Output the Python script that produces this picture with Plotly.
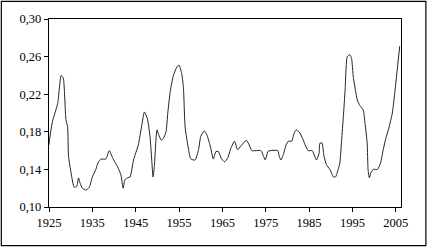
import plotly.graph_objects as go

years = [1925.0, 1925.1, 1925.8, 1927.0, 1927.8, 1928.3, 1928.9, 1929.3, 1929.5, 1930.1, 1930.8,
         1931.4, 1931.8, 1932.2, 1932.7, 1933.5, 1934.3, 1935.0, 1935.8, 1936.4, 1937.0, 1938.1,
         1938.9, 1939.7, 1940.8, 1941.6, 1942.1, 1942.5, 1943.1, 1943.7, 1944.5, 1944.9, 1945.6,
         1946.4, 1947.0, 1947.7, 1948.3, 1948.7, 1949.0, 1949.3, 1949.9, 1950.3, 1950.9, 1951.4,
         1952.0, 1952.4, 1953.0, 1953.7, 1954.5, 1955.0, 1955.6, 1956.0, 1956.4, 1957.2, 1957.7,
         1958.7, 1959.5, 1960.0, 1960.8, 1961.4, 1962.2, 1962.9, 1963.5, 1964.1, 1964.7, 1965.5,
         1966.2, 1967.0, 1967.8, 1968.5, 1969.3, 1970.5, 1971.2, 1971.8, 1973.9, 1974.4, 1974.9,
         1975.5, 1976.0, 1977.8, 1978.1, 1978.5, 1979.0, 1979.7, 1980.2, 1981.0, 1981.5, 1982.0,
         1982.7, 1983.5, 1984.1, 1984.8, 1985.7, 1986.3, 1986.7, 1987.3, 1987.5, 1988.0, 1988.4,
         1989.0, 1989.8, 1990.6, 1991.1, 1991.7, 1992.1, 1992.5, 1992.9, 1993.3, 1993.8, 1994.4,
         1994.8, 1995.2, 1995.7, 1996.1, 1996.7, 1997.5, 1997.9, 1998.4, 1998.6, 1998.9, 1999.2,
         1999.8, 2000.8, 2001.5, 2002.1, 2002.7, 2003.4, 2004.2, 2004.8, 2005.4, 2005.9]
values = [0.166, 0.171, 0.191, 0.210, 0.240, 0.237, 0.193, 0.185, 0.154, 0.136, 0.121,
          0.122, 0.131, 0.125, 0.120, 0.118, 0.121, 0.132, 0.140, 0.148, 0.151, 0.151,
          0.160, 0.152, 0.143, 0.134, 0.120, 0.129, 0.131, 0.132, 0.150, 0.156, 0.166,
          0.187, 0.201, 0.194, 0.175, 0.150, 0.132, 0.143, 0.182, 0.177, 0.171, 0.173,
          0.180, 0.200, 0.224, 0.240, 0.249, 0.251, 0.242, 0.228, 0.185, 0.161, 0.151,
          0.150, 0.161, 0.175, 0.181, 0.177, 0.165, 0.151, 0.159, 0.159, 0.152, 0.148,
          0.152, 0.163, 0.170, 0.161, 0.165, 0.171, 0.166, 0.160, 0.160, 0.155, 0.150,
          0.159, 0.160, 0.160, 0.154, 0.150, 0.155, 0.166, 0.170, 0.170, 0.178, 0.182,
          0.180, 0.173, 0.166, 0.160, 0.160, 0.154, 0.150, 0.157, 0.168, 0.168, 0.155,
          0.145, 0.140, 0.132, 0.132, 0.140, 0.147, 0.171, 0.196, 0.224, 0.260, 0.262,
          0.258, 0.238, 0.224, 0.214, 0.208, 0.203, 0.189, 0.168, 0.140, 0.131, 0.136,
          0.140, 0.140, 0.147, 0.161, 0.173, 0.184, 0.200, 0.223, 0.249, 0.271]

x_ticks = [1925, 1935, 1945, 1955, 1965, 1975, 1985, 1995, 2005]
y_ticks = [0.10, 0.14, 0.18, 0.22, 0.26, 0.30]

fig = go.Figure()
fig.add_trace(go.Scatter(x=years, y=values, mode="lines",
                         line=dict(color="#222222", width=1, shape="spline", smoothing=0.5),
                         showlegend=False, hoverinfo="skip"))

font = dict(family="Liberation Serif, Times New Roman, serif", size=12.5, color="black")
fig.update_layout(
    width=428, height=248,
    margin=dict(l=49, r=27, t=19, b=41),
    paper_bgcolor="white", plot_bgcolor="white",
    separators=",.",
    font=font,
    xaxis=dict(range=[1925, 2006.2], tickvals=x_ticks, ticks="outside", ticklen=4,
               tickcolor="black", showline=True, linecolor="black", linewidth=1.3,
               mirror=True, showgrid=False, zeroline=False, tickfont=font),
    yaxis=dict(range=[0.10, 0.30], tickvals=y_ticks, tickformat=".2f", ticks="outside",
               ticklen=4, tickcolor="black", showline=True, linecolor="black", linewidth=1.3,
               mirror=True, showgrid=False, zeroline=False, tickfont=font),
    shapes=[dict(type="rect", xref="paper", yref="paper",
                 x0=-0.1354, x1=1.0707, y0=-0.2053, y1=1.094,
                 line=dict(color="black", width=1.2), fillcolor="rgba(0,0,0,0)", layer="below")],
)

fig.write_html("out.html", config={"displayModeBar": False},
               post_script="document.body.style.margin='0';document.body.style.padding='0';")
